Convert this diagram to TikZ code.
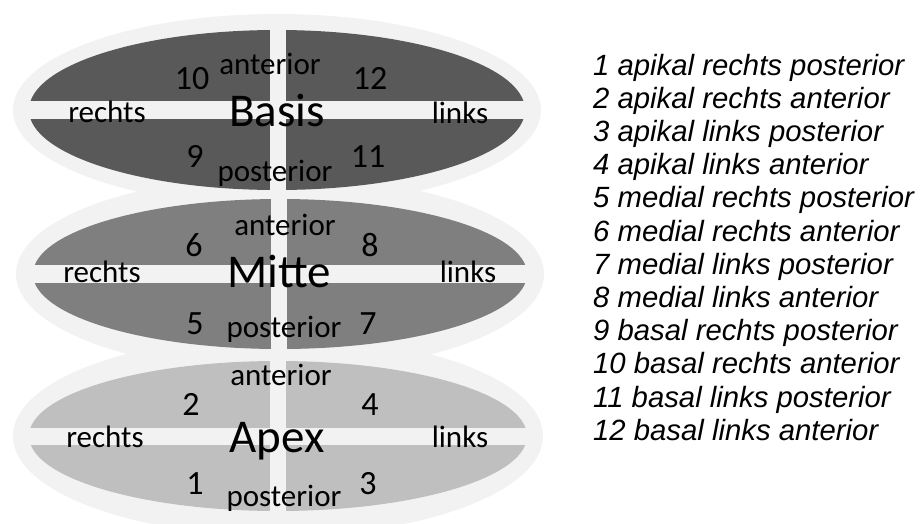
\documentclass[tikz,border=0pt]{standalone}
\usepackage{fontspec}
\setmainfont{Carlito}
\newfontfamily\legendfont{Liberation Sans}
\definecolor{ringc}{HTML}{F2F2F2}
\definecolor{basisc}{HTML}{595959}
\definecolor{mittec}{HTML}{7F7F7F}
\definecolor{apexc}{HTML}{BFBFBF}
\tikzset{
  ring/.style={fill=ringc},
  lbl/.style={inner sep=0pt, anchor=base, font=\fontsize{31}{31}\selectfont},
  num/.style={inner sep=0pt, anchor=base, font=\fontsize{34}{34}\selectfont},
  ttl/.style={inner sep=0pt, anchor=base, font=\fontsize{47}{47}\selectfont},
  leg/.style={inner sep=0pt, anchor=base west, font=\legendfont\itshape\fontsize{29.3}{29.3}\selectfont},
}
\begin{document}
\begin{tikzpicture}[x=1pt, y=-1pt]
\useasboundingbox[fill=white] (0,0) rectangle (920,523);
% outer rings
\path[ring] (277,110) ellipse [x radius=264, y radius=96];
\path[ring] (280,274) ellipse [x radius=264, y radius=98];
\path[ring] (278,436) ellipse [x radius=265, y radius=100];
% fills
\path[fill=basisc] (277,110) ellipse [x radius=248, y radius=80];
\path[fill=mittec] (280,274) ellipse [x radius=247, y radius=75];
\path[fill=apexc] (278,436) ellipse [x radius=249, y radius=75];
% bands and lines
\fill[ringc] (27,101) rectangle (527,119);
\fill[ringc] (270,28) rectangle (286,192);
\fill[ringc] (30,265) rectangle (530,283);
\fill[ringc] (271,197) rectangle (287,351);
\fill[ringc] (27,428) rectangle (529,445);
\fill[ringc] (270,359) rectangle (286,513);
% Basis labels
\node[num] (n10) at (192,89.5) {10};
\node[lbl] (bant) at (270,74) {anterior};
\node[num] (n12) at (370,89.5) {12};
\node[lbl] (brec) at (107,122) {rechts};
\node[ttl] (basis) at (277,126) {Basis};
\node[lbl] (blin) at (460,123) {links};
\node[num] (n9) at (195,167) {9};
\node[lbl] (bpos) at (275,181) {posterior};
\node[num] (n11) at (368,167) {11};
% Mitte labels
\node[lbl] (mant) at (285,235) {anterior};
\node[num] (n6) at (194,256) {6};
\node[num] (n8) at (370,256) {8};
\node[lbl] (mrec) at (102,282) {rechts};
\node[ttl] (mitte) at (279,287) {Mitte};
\node[lbl] (mlin) at (468,282) {links};
\node[num] (n5) at (195,334) {5};
\node[lbl] (mpos) at (284,337) {posterior};
\node[num] (n7) at (368,334) {7};
% Apex labels
\node[lbl] (aant) at (281,385) {anterior};
\node[num] (n2) at (191,415) {2};
\node[num] (n4) at (370,415) {4};
\node[lbl] (arec) at (105,447) {rechts};
\node[ttl] (apex) at (277,452) {Apex};
\node[lbl] (alin) at (460,447) {links};
\node[num] (n1) at (195,494) {1};
\node[lbl] (apos) at (284,506) {posterior};
\node[num] (n3) at (368,494) {3};
% legend
\node[leg] (l1) at (593,75) {1 apikal rechts posterior};
\node[leg] (l2) at (593,108.2) {2 apikal rechts anterior};
\node[leg] (l3) at (593,141.4) {3 apikal links posterior};
\node[leg] (l4) at (593,174.6) {4 apikal links anterior};
\node[leg] (l5) at (593,207.8) {5 medial rechts posterior};
\node[leg] (l6) at (593,241) {6 medial rechts anterior};
\node[leg] (l7) at (593,274.2) {7 medial links posterior};
\node[leg] (l8) at (593,307.4) {8 medial links anterior};
\node[leg] (l9) at (593,340.6) {9 basal rechts posterior};
\node[leg] (l10) at (593,373.8) {10 basal rechts anterior};
\node[leg] (l11) at (593,407) {11 basal links posterior};
\node[leg] (l12) at (593,440.2) {12 basal links anterior};
\end{tikzpicture}
\end{document}
